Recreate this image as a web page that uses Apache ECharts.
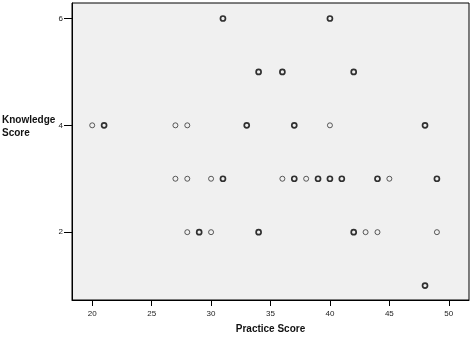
<!DOCTYPE html>
<html><head><meta charset="utf-8">
<script src="https://cdn.jsdelivr.net/npm/echarts@6/dist/echarts.min.js"></script>
<style>html,body{margin:0;padding:0;background:#fff}#c{width:472px;height:339px}</style>
</head><body><div id="c"></div>
<script>
// Practice score (x) and knowledge score (y); "heavy" = overlapping cases drawn bolder
const lightX = [20, 27, 28, 40, 27, 28, 30, 36, 38, 45, 28, 30, 43, 44, 49];
const lightY = [4, 4, 4, 4, 3, 3, 3, 3, 3, 3, 2, 2, 2, 2, 2];
const heavyX = [31, 40, 34, 36, 42, 21, 33, 37, 48, 31, 37, 39, 40, 41, 44, 49, 29, 34, 42, 48];
const heavyY = [6, 6, 5, 5, 5, 4, 4, 4, 4, 3, 3, 3, 3, 3, 3, 3, 2, 2, 2, 1];
const xTicks = [20, 25, 30, 35, 40, 45, 50];
const yTicks = [2, 4, 6];
const xName = 'Practice Score';
const yName = 'Knowledge\nScore';

const pair = (xs, ys) => xs.map((x, i) => [x, ys[i]]);
const chart = echarts.init(document.getElementById('c'));
const font = 'Liberation Sans, Arial, sans-serif';
chart.setOption({
  animation: false,
  grid: {left: 72, top: 3, right: 3, bottom: 36, show: true, backgroundColor: '#f0f0f0', borderColor: '#000', borderWidth: 1},
  xAxis: {
    type: 'value', min: 18.3, max: 51.7,
    name: xName, nameLocation: 'middle', nameGap: 24,
    nameTextStyle: {fontFamily: font, fontSize: 10, fontWeight: 'bold', color: '#111'},
    axisLine: {show: true, onZero: false, lineStyle: {color: '#000'}},
    axisTick: {show: true, length: 6, customValues: xTicks, lineStyle: {color: '#000'}},
    axisLabel: {customValues: xTicks, fontFamily: font, fontSize: 8, color: '#222', margin: 10},
    splitLine: {show: false}
  },
  yAxis: {
    type: 'value', min: 0.73, max: 6.29,
    axisLine: {show: true, onZero: false, lineStyle: {color: '#000'}},
    axisTick: {show: true, length: 8, customValues: yTicks, lineStyle: {color: '#000'}},
    axisLabel: {customValues: yTicks, fontFamily: font, fontSize: 8, color: '#222', margin: 9},
    splitLine: {show: false}
  },
  graphic: [{
    type: 'text', left: 2, top: 114,
    style: {text: yName, font: 'bold 10px ' + font, fill: '#111', lineHeight: 13}
  }],
  series: [
    {type: 'scatter', data: pair(lightX, lightY), symbol: 'circle', symbolSize: 5,
     itemStyle: {color: 'rgba(0,0,0,0)', borderColor: '#333', borderWidth: 1}},
    {type: 'scatter', data: pair(heavyX, heavyY), symbol: 'circle', symbolSize: 5,
     itemStyle: {color: 'rgba(0,0,0,0)', borderColor: '#000', borderWidth: 1.7}}
  ]
});
</script></body></html>
